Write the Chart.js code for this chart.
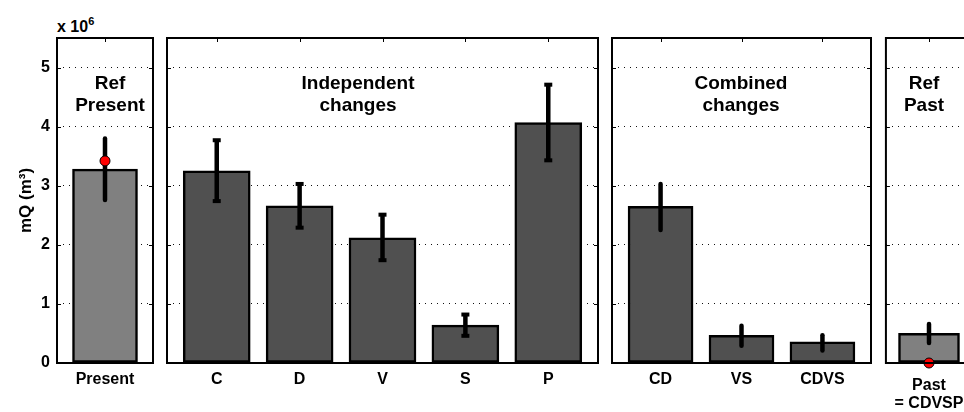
<!DOCTYPE html>
<html>
<head>
<meta charset="UTF-8">
<title>mQ</title>
<script src="https://cdn.jsdelivr.net/npm/chart.js@4.4.0/dist/chart.umd.min.js"></script>
<style>
    body { margin: 0; width: 964px; height: 412px; overflow: hidden; background: #fff; position: relative;
        font-family: "Liberation Sans", Arial, sans-serif; }
    .box { position: absolute; top: 0; height: 412px; }
    .ttl { position: absolute; font-weight: bold; font-size: 19px; line-height: 22px; text-align: center; color: #000; }
    .mult { position: absolute; left: 57px; top: 16px; font-weight: bold; font-size: 16px; color: #000; }
    .mult sup { font-size: 11px; position: relative; top: -1px; }
</style>
</head>
<body>

<div class="mult">x 10<sup>6</sup></div>

<div class="box" style="left:0; width:160px"><canvas id="pPresent"></canvas></div>
<div class="box" style="left:163px; width:439px"><canvas id="pIndep"></canvas></div>
<div class="box" style="left:608px; width:267px"><canvas id="pComb"></canvas></div>
<div class="box" style="left:879px; width:100px"><canvas id="pPast"></canvas></div>

<div class="ttl" style="left:60px; width:100px; top:72px">Ref<br>Present</div>
<div class="ttl" style="left:258px; width:200px; top:72px">Independent<br>changes</div>
<div class="ttl" style="left:641px; width:200px; top:72px">Combined<br>changes</div>
<div class="ttl" style="left:874px; width:100px; top:72px">Ref<br>Past</div>

<script>
    // values in units of 10^6 m3
    var yTicks = [0, 1, 2, 3, 4, 5];

    var presentLabels = ['Present'];
    var presentMean = [3.28];
    var presentHi = [3.80];
    var presentLo = [2.76];
    var presentDot = [3.42];

    var indepLabels = ['C', 'D', 'V', 'S', 'P'];
    var indepMean = [3.25, 2.66, 2.12, 0.64, 4.07];
    var indepHi = [3.77, 3.03, 2.51, 0.82, 4.71];
    var indepLo = [2.74, 2.29, 1.74, 0.46, 3.43];

    var combLabels = ['CD', 'VS', 'CDVS'];
    var combMean = [2.65, 0.47, 0.36];
    var combHi = [3.03, 0.63, 0.47];
    var combLo = [2.25, 0.29, 0.21];

    var pastLabels = [['Past', '= CDVSP']];
    var pastMean = [0.50];
    var pastHi = [0.66];
    var pastLo = [0.34];
    var pastDot = [0.0];

    Chart.defaults.font.family = '"Liberation Sans", Arial, sans-serif';
    Chart.defaults.color = '#000';

    // error bars, frame and inward ticks
    var panelPlugin = {
        id: 'panel',
        afterDatasetDraw: function (chart, args, opts) {
            if (args.index !== 0) return;
            var ctx = chart.ctx, ys = chart.scales.y;
            var bars = chart.getDatasetMeta(0).data;
            ctx.save();
            ctx.strokeStyle = '#000';
            ctx.fillStyle = '#000';
            ctx.lineWidth = 4.5;
            ctx.lineCap = opts.caps ? 'butt' : 'round';
            for (var i = 0; i < bars.length; i++) {
                var x = bars[i].x;
                var yt = ys.getPixelForValue(opts.hi[i]);
                var yb = ys.getPixelForValue(opts.lo[i]);
                ctx.beginPath();
                ctx.moveTo(x, yt);
                ctx.lineTo(x, yb);
                ctx.stroke();
                if (opts.caps) {
                    ctx.fillRect(x - 4, yt - 2, 8, 4);
                    ctx.fillRect(x - 4, yb - 2, 8, 4);
                }
            }
            ctx.restore();
        },
        afterDraw: function (chart) {
            var ctx = chart.ctx, a = chart.chartArea;
            var ys = chart.scales.y, xs = chart.scales.x;
            ctx.save();
            ctx.strokeStyle = '#000';
            ctx.lineWidth = 1;
            ctx.beginPath();
            ys.ticks.forEach(function (t) {
                var y = Math.round(ys.getPixelForValue(t.value)) + 0.5;
                ctx.moveTo(a.left, y); ctx.lineTo(a.left + 4, y);
                ctx.moveTo(a.right, y); ctx.lineTo(a.right - 4, y);
            });
            xs.ticks.forEach(function (t) {
                var x = Math.round(xs.getPixelForValue(t.value)) + 0.5;
                ctx.moveTo(x, a.top); ctx.lineTo(x, a.top + 4);
            });
            ctx.stroke();
            ctx.lineWidth = 2;
            ctx.strokeRect(a.left, a.top, a.right - a.left, a.bottom - a.top);
            ctx.restore();
        }
    };

    function makePanel(id, p) {
        var n = p.labels.length;
        var datasets = [{
            type: 'bar',
            order: 1,
            data: p.mean.map(function (v, i) { return {x: i + 1, y: v}; }),
            backgroundColor: p.color,
            borderColor: '#000',
            borderWidth: 2.5,
            borderSkipped: false,
            barThickness: p.barPx
        }];
        if (p.dot) {
            datasets.push({
                type: 'line',
                order: 0,
                clip: false,
                data: p.dot.map(function (v, i) { return {x: i + 1, y: v}; }),
                showLine: false,
                pointRadius: 5,
                pointBackgroundColor: '#ff0000',
                pointBorderColor: '#000',
                pointBorderWidth: 1
            });
        }
        return new Chart(document.getElementById(id), {
            type: 'bar',
            data: {datasets: datasets},
            plugins: [panelPlugin],
            options: {
                responsive: true,
                maintainAspectRatio: false,
                animation: false,
                layout: {padding: {left: p.padL, right: p.padR, top: 38, bottom: 0}},
                plugins: {
                    legend: {display: false},
                    tooltip: {enabled: false},
                    panel: {hi: p.hi, lo: p.lo, caps: p.caps}
                },
                scales: {
                    x: {
                        type: 'linear',
                        offset: false,
                        min: 0.4,
                        max: n + 0.6,
                        grid: {display: false, drawTicks: false, offset: false},
                        border: {display: false},
                        afterBuildTicks: function (s) {
                            s.ticks = p.labels.map(function (l, i) { return {value: i + 1}; });
                        },
                        afterFit: function (s) { s.height = 49; },
                        ticks: {
                            autoSkip: false,
                            maxRotation: 0,
                            padding: p.labPad,
                            font: {size: 16, weight: 'bold', lineHeight: 1.15},
                            callback: function (v, i) { return p.labels[i]; }
                        }
                    },
                    y: {
                        min: 0,
                        max: 5.5,
                        afterBuildTicks: function (s) {
                            s.ticks = yTicks.map(function (v) { return {value: v}; });
                        },
                        afterFit: function (s) { s.width = p.yWidth; },
                        grid: {color: '#111', lineWidth: 1, drawTicks: false},
                        border: {display: false, dash: [1, 5]},
                        ticks: {
                            display: p.yWidth > 0,
                            padding: 7,
                            font: {size: 16, weight: 'bold'}
                        },
                        title: {
                            display: p.yWidth > 0,
                            text: 'mQ (m³)',
                            font: {size: 17, weight: 'bold'},
                            padding: {top: 16, bottom: 0}
                        }
                    }
                }
            }
        });
    }

    makePanel('pPresent', {labels: presentLabels, mean: presentMean, hi: presentHi, lo: presentLo,
        dot: presentDot, color: '#808080', caps: false, barPx: 65, padL: 0, padR: 7, yWidth: 57, labPad: 7});
    makePanel('pIndep', {labels: indepLabels, mean: indepMean, hi: indepHi, lo: indepLo,
        color: '#505050', caps: true, barPx: 67, padL: 4, padR: 4, yWidth: 0, labPad: 7});
    makePanel('pComb', {labels: combLabels, mean: combMean, hi: combHi, lo: combLo,
        color: '#505050', caps: false, barPx: 65, padL: 4, padR: 4, yWidth: 0, labPad: 7});
    makePanel('pPast', {labels: pastLabels, mean: pastMean, hi: pastHi, lo: pastLo,
        dot: pastDot, color: '#808080', caps: false, barPx: 61, padL: 4, padR: 4, yWidth: 0, labPad: 13});
</script>
</body>
</html>
